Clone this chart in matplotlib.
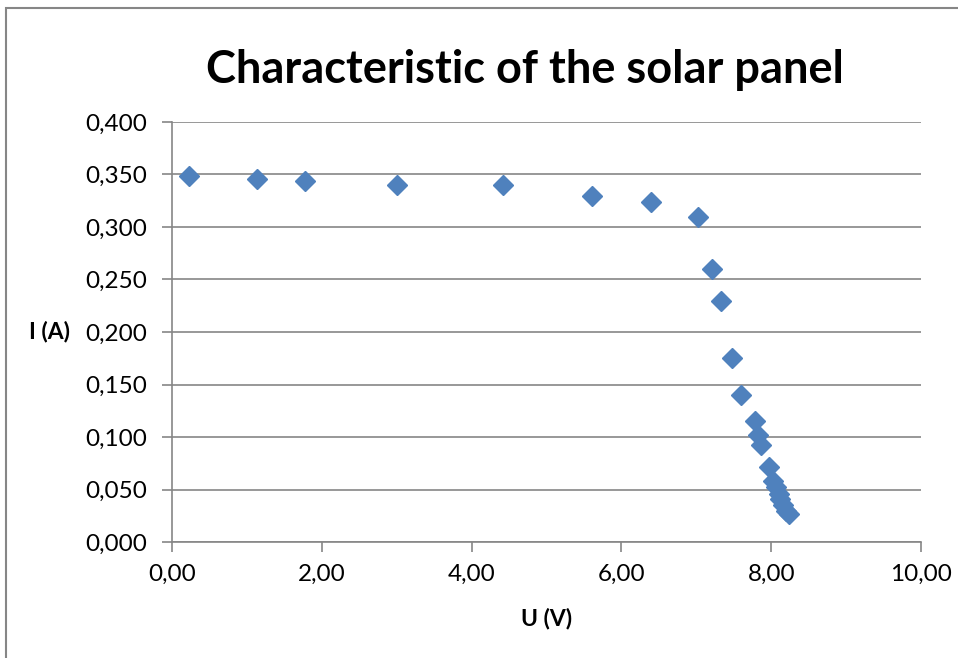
import matplotlib
matplotlib.use("Agg")
import matplotlib.pyplot as plt
from matplotlib.patches import Rectangle
from matplotlib.ticker import FuncFormatter, MultipleLocator

# measured panel voltage (V) and current (A)
voltage = [0.23, 1.13, 1.78, 3.00, 4.42, 5.61, 6.40, 7.02, 7.21, 7.33, 7.48, 7.60,
           7.78, 7.82, 7.87, 7.97, 8.03, 8.06, 8.10, 8.12, 8.16, 8.20, 8.24]
current = [0.349, 0.346, 0.344, 0.340, 0.340, 0.330, 0.324, 0.310, 0.260, 0.230, 0.175, 0.140,
           0.115, 0.102, 0.092, 0.071, 0.058, 0.052, 0.046, 0.041, 0.035, 0.030, 0.027]

BLUE = "#4F81BD"
GRID = "#868686"
FONT = ["Lato", "DejaVu Sans"]

plt.rcParams["font.family"] = FONT

fig = plt.figure(figsize=(9.58, 6.58), dpi=100)
ax = fig.add_axes([172 / 958, 1 - 542 / 658, (921 - 172) / 958, (542 - 122) / 658])

ax.plot(voltage, current, linestyle="none", marker="D", markersize=10,
        color=BLUE, markeredgecolor=BLUE, zorder=3)

ax.set_xlim(0, 10)
ax.set_ylim(0, 0.4)
ax.xaxis.set_major_locator(MultipleLocator(2))
ax.yaxis.set_major_locator(MultipleLocator(0.05))
ax.xaxis.set_major_formatter(FuncFormatter(lambda v, _: f"{v:.2f}".replace(".", ",")))
ax.yaxis.set_major_formatter(FuncFormatter(lambda v, _: f"{v:.3f}".replace(".", ",")))

ax.grid(axis="y", color=GRID, linewidth=1.2)
ax.set_axisbelow(True)
for side in ("top", "right"):
    ax.spines[side].set_visible(False)
for side in ("left", "bottom"):
    ax.spines[side].set_color(GRID)
    ax.spines[side].set_linewidth(1.2)
ax.tick_params(colors=GRID, labelcolor="black", labelsize=17.5, length=7, width=1.2)
ax.tick_params(axis="y", pad=11)
ax.tick_params(axis="x", pad=9)

ax.set_xlabel("U (V)", fontsize=16.5, fontweight="bold", va="center", ha="center")
ax.xaxis.set_label_coords(0.5, -0.181)
ax.set_ylabel("I (A)", fontsize=16.5, fontweight="bold", rotation=0, va="center", ha="center")
ax.yaxis.set_label_coords(-0.163, 0.5)

fig.text(0.548, 1 - 70 / 658, "Characteristic of the solar panel",
         fontsize=32.5, fontweight="bold", ha="center", va="center")

# chart frame, runs off the right and bottom edges
fig.add_artist(Rectangle((6 / 958, -0.1), 1.2, 1.1 - 8 / 658, transform=fig.transFigure,
                         fill=False, edgecolor=GRID, linewidth=1.5, clip_on=False))

fig.savefig("out.png", dpi=100)
